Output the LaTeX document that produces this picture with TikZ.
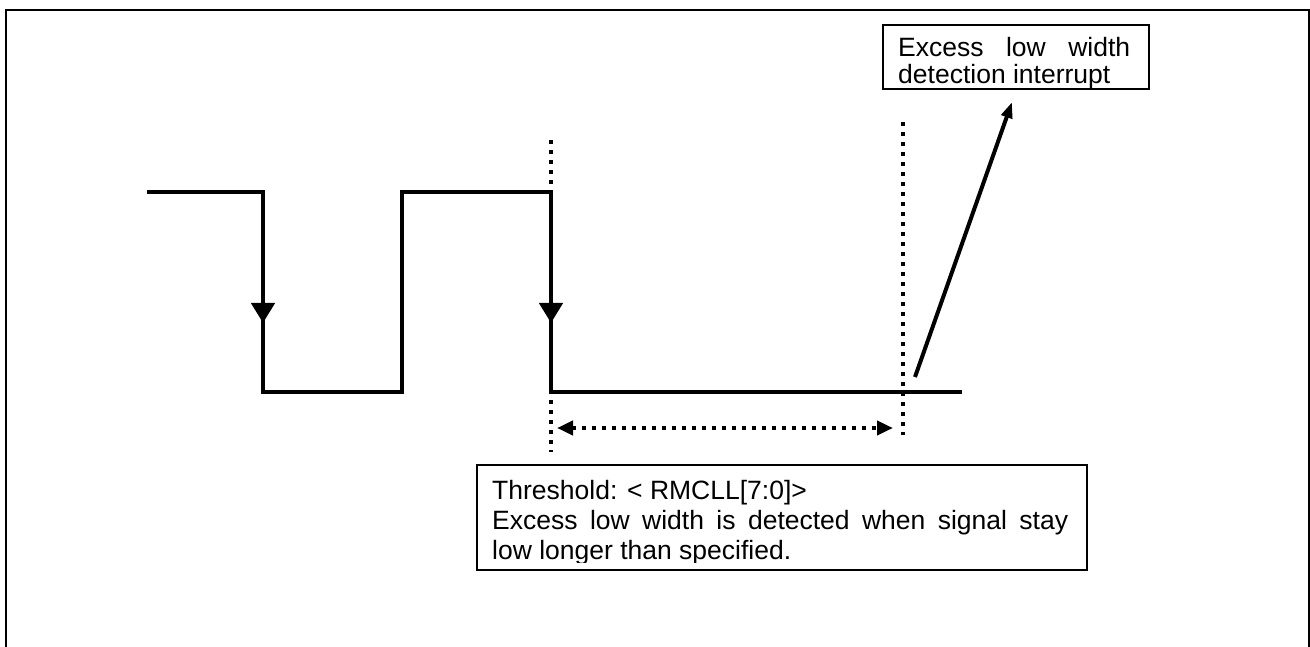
\documentclass[tikz,border=0pt]{standalone}
\usepackage{fontspec}
\setmainfont{Liberation Sans}
\usetikzlibrary{arrows.meta}
\begin{document}
\begin{tikzpicture}[x=1pt,y=-1pt,
  sig/.style={line width=4.5pt, line join=miter, line cap=butt},
  dots/.style={line width=4pt, dash pattern=on 4pt off 6pt},
  boxstyle/.style={draw, line width=1.8pt, inner sep=0pt},
  txt/.style={anchor=base west, inner sep=0pt, font=\fontsize{26.5}{30}\selectfont}]
\useasboundingbox (0,0) rectangle (1310,647);
% outer frame
\draw[line width=2pt] (6,660) -- (6,10) -- (1309,10) -- (1309,660);
% signal
\coordinate (s0) at (147,192);
\coordinate (s1) at (263,192);
\coordinate (s2) at (263,392);
\coordinate (s3) at (402,392);
\coordinate (s4) at (402,192);
\coordinate (s5) at (551,192);
\coordinate (s6) at (551,392);
\coordinate (s7) at (962,392);
\draw[sig] (s0) -- (s1) -- (s2) -- (s3) -- (s4) -- (s5) -- (s6) -- (s7);
\coordinate (a1) at (263,323);
\coordinate (a2) at (551,323);
\draw[sig, -{Triangle[length=20pt,width=23pt]}] (s1) -- (a1);
\draw[sig, -{Triangle[length=20pt,width=23pt]}] (s5) -- (a2);
% dotted markers
\coordinate (d1t) at (551,140); \coordinate (d1b) at (551,452);
\coordinate (d2t) at (903,122); \coordinate (d2b) at (903,435);
\draw[dots] (d1t) -- (d1b);
\draw[dots] (d2t) -- (d2b);
\coordinate (w1) at (557,428); \coordinate (w2) at (893,428);
\draw[dots, {Triangle[length=16pt,width=14pt]}-{Triangle[length=16pt,width=14pt]}] (w1) -- (w2);
% interrupt box
\node[boxstyle, minimum width=266pt, minimum height=64pt, anchor=north west] (ibox) at (882,24) {};
\node[txt] (it1) at (898,57) {\makebox[232pt][s]{Excess low width}};
\node[txt] (it2) at (898,84) {detection interrupt};
\coordinate (i0) at (915,377);
\coordinate (i1) at (1012,102);
\draw[line width=4pt, -{Triangle[length=16pt,width=11pt]}] (i0) -- (i1);
% threshold box
\node[boxstyle, minimum width=610pt, minimum height=105pt, anchor=north west] (tbox) at (476,464) {};
\begin{scope}
\clip (477,465) rectangle (1085,562);
\node[txt] (tl1) at (492,499) {Threshold: < RMCLL[7:0]>};
\node[txt] (tl2) at (492,529) {\makebox[576pt][s]{Excess low width is detected when signal stay}};
\node[txt] (tl3) at (492,559) {low longer than specified.};
\end{scope}
\end{tikzpicture}
\end{document}
